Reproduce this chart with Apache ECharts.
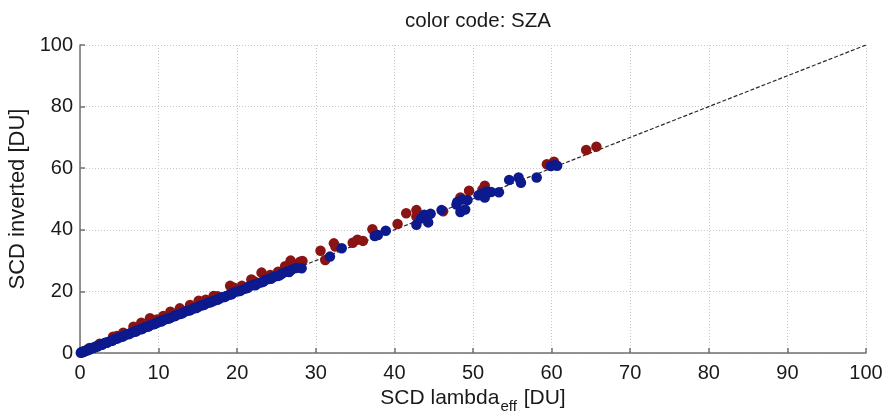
<!DOCTYPE html>
<html>
<head>
<meta charset="utf-8">
<script src="https://cdn.jsdelivr.net/npm/echarts@6/dist/echarts.min.js"></script>
<style>
  html, body { margin: 0; padding: 0; background: #fff; }
  #chart { width: 886px; height: 412px; }
</style>
</head>
<body>
<div id="chart"></div>
<script>
// Tick values for both axes (DU)
const xTicks = [0, 10, 20, 30, 40, 50, 60, 70, 80, 90, 100];
const yTicks = [0, 20, 40, 60, 80, 100];

// 1:1 reference line
const identityLine = [[0, 0], [100, 100]];

// Low-SZA group: [SCD lambda_eff, SCD inverted]
const bluePoints = [
  [0.1, 0.1], [0.2, 0.3], [0.3, 0.2], [0.4, 0.5], [0.5, 0.4], [0.6, 0.6], [0.8, 0.9], [0.9, 0.8],
  [1.0, 1.1], [1.2, 1.1], [1.3, 1.3], [1.5, 1.6], [1.7, 1.6], [1.8, 1.8], [2.0, 2.1], [2.2, 2.1],
  [2.3, 2.3], [2.6, 2.7], [2.8, 2.7], [2.9, 2.9], [3.2, 3.3], [3.4, 3.3], [3.5, 3.5], [3.9, 3.9],
  [4.1, 4.0], [4.2, 4.3], [4.6, 4.6], [4.8, 4.8], [5.0, 5.1], [5.3, 5.3], [5.5, 5.4], [5.7, 5.8],
  [6.1, 6.1], [6.3, 6.2], [6.5, 6.6], [6.9, 6.9], [7.1, 7.0], [7.3, 7.4], [7.7, 7.7], [7.9, 7.8],
  [8.1, 8.2], [8.5, 8.5], [8.7, 8.6], [8.9, 9.0], [9.3, 9.3], [9.5, 9.4], [9.8, 9.8], [10.2, 10.2],
  [10.4, 10.3], [10.6, 10.7], [11.0, 11.0], [11.3, 11.2], [11.5, 11.4], [11.9, 11.9], [12.1, 12.0],
  [12.3, 12.3], [12.8, 12.7], [13.0, 12.9], [13.2, 13.2], [13.6, 13.7], [13.9, 13.8], [14.1, 14.0],
  [14.5, 14.5], [14.8, 14.6], [15.0, 14.9], [15.4, 15.4], [15.7, 15.6], [15.9, 15.8], [16.3, 16.3],
  [16.6, 16.5], [16.8, 16.7], [17.2, 17.1], [17.5, 17.3], [17.7, 17.6], [18.1, 18.1], [18.4, 18.2],
  [18.6, 18.5], [19.0, 18.9], [19.3, 19.1], [19.5, 19.6], [20.0, 20.0], [20.3, 20.1], [20.5, 20.4],
  [21.0, 20.9], [21.3, 21.1], [21.5, 21.6], [22.0, 22.1], [22.3, 22.0], [22.5, 22.4], [23.0, 22.9],
  [23.3, 23.1], [23.5, 23.6], [24.0, 24.0], [24.3, 24.1], [24.6, 24.7], [25.1, 25.0], [25.4, 25.2],
  [25.7, 25.8], [26.3, 26.4], [26.6, 26.3], [26.9, 27.0], [27.5, 27.6], [28.2, 27.5],
  [31.8, 31.3], [33.3, 34.0], [37.5, 38.0], [37.9, 38.3], [38.9, 39.7],
  [42.8, 41.6], [43.4, 43.7], [43.8, 44.9], [44.3, 42.4], [44.6, 45.2], [46.0, 46.4],
  [48.0, 49.0], [48.6, 49.8], [49.3, 49.7], [48.4, 45.8], [49.0, 46.6], [47.9, 48.2],
  [50.7, 51.2], [51.2, 51.8], [51.7, 52.4], [52.3, 52.3], [51.5, 50.5], [53.3, 52.2],
  [54.6, 56.2], [55.8, 57.0], [56.1, 55.3], [58.1, 57.0],
  [59.9, 60.7], [60.4, 61.0], [60.7, 60.8]
];

// High-SZA group: [SCD lambda_eff, SCD inverted]
const redPoints = [
  [1.2, 1.6], [2.5, 3.0], [4.2, 5.3], [4.7, 5.5], [5.5, 6.6], [6.8, 8.5], [7.8, 9.8], [8.9, 11.3],
  [9.8, 10.9], [10.6, 12.0], [11.5, 13.4], [12.7, 14.5], [14.0, 15.6], [15.1, 17.0], [16.0, 17.3],
  [17.0, 18.5], [17.5, 18.4], [19.1, 21.8], [19.6, 21.2], [20.6, 21.8], [21.8, 23.9], [22.2, 23.2],
  [23.1, 26.1], [24.2, 25.3], [25.2, 26.4], [26.1, 28.2], [26.8, 30.0], [28.0, 29.6], [28.3, 29.9],
  [30.6, 33.2], [31.2, 30.2], [32.3, 35.6], [32.5, 34.6], [34.7, 35.8], [35.3, 36.8], [36.0, 36.4],
  [37.2, 40.2], [40.4, 41.9], [41.5, 45.4], [42.8, 46.4], [42.8, 44.3], [46.2, 46.0],
  [48.4, 50.5], [49.5, 52.7], [51.5, 54.3], [51.2, 53.0],
  [59.4, 61.3], [60.3, 62.1], [64.4, 65.9], [65.7, 67.0]
];

const chart = echarts.init(document.getElementById('chart'), null, { renderer: 'canvas' });

const fontFamily = '"Liberation Sans", Arial, Helvetica, sans-serif';
const axisColor = '#707070';
const textColor = '#1a1a1a';
const gridLineStyle = { color: '#c8c8c8', type: [1, 2], width: 1 };

function axisBase(ticks) {
  return {
    type: 'value',
    min: ticks[0],
    max: ticks[ticks.length - 1],
    interval: ticks[1] - ticks[0],
    axisLine: { show: true, lineStyle: { color: axisColor, width: 1.5 } },
    axisTick: { show: true, inside: true, length: 5, lineStyle: { color: axisColor, width: 1.5 } },
    axisLabel: { color: textColor, fontSize: 20, fontFamily: fontFamily },
    splitLine: { show: true, lineStyle: gridLineStyle }
  };
}

chart.setOption({
  animation: false,
  backgroundColor: '#ffffff',
  title: {
    text: 'color code: SZA',
    left: 473,
    top: 6,
    textAlign: 'center',
    textStyle: { color: textColor, fontSize: 20.5, fontWeight: 'normal', fontFamily: fontFamily }
  },
  grid: { left: 80, right: 20, top: 45, bottom: 59, containLabel: false, outerBoundsMode: 'none' },
  xAxis: Object.assign(axisBase(xTicks), {
    name: '{a|SCD lambda}{s|eff}{a| [DU]}',
    nameLocation: 'middle',
    nameGap: 33,
    nameTextStyle: {
      color: textColor,
      fontFamily: fontFamily,
      rich: {
        a: { fontSize: 21, lineHeight: 24, verticalAlign: 'top', color: textColor, fontFamily: fontFamily },
        s: { fontSize: 15, lineHeight: 15, padding: [11, 1, 0, 1], verticalAlign: 'top', color: textColor, fontFamily: fontFamily }
      }
    },
    axisLabel: { color: textColor, fontSize: 20, fontFamily: fontFamily, margin: 10 }
  }),
  yAxis: Object.assign(axisBase(yTicks), {
    name: 'SCD inverted [DU]',
    nameLocation: 'middle',
    nameGap: 48,
    nameTextStyle: { color: textColor, fontSize: 22, fontFamily: fontFamily },
    axisLabel: { color: textColor, fontSize: 20, fontFamily: fontFamily, margin: 7 }
  }),
  series: [
    {
      name: 'identity',
      type: 'line',
      data: identityLine,
      symbol: 'none',
      lineStyle: { color: '#2a2a2a', width: 1.2, type: [4, 2] },
      z: 1,
      silent: true
    },
    {
      name: 'high SZA',
      type: 'scatter',
      data: redPoints,
      symbol: 'circle',
      symbolSize: 10.5,
      itemStyle: { color: '#8a1414', opacity: 1 },
      z: 2
    },
    {
      name: 'low SZA',
      type: 'scatter',
      data: bluePoints,
      symbol: 'circle',
      symbolSize: 10.5,
      itemStyle: { color: '#0d1a8e', opacity: 1 },
      z: 3
    }
  ]
});
</script>
</body>
</html>
